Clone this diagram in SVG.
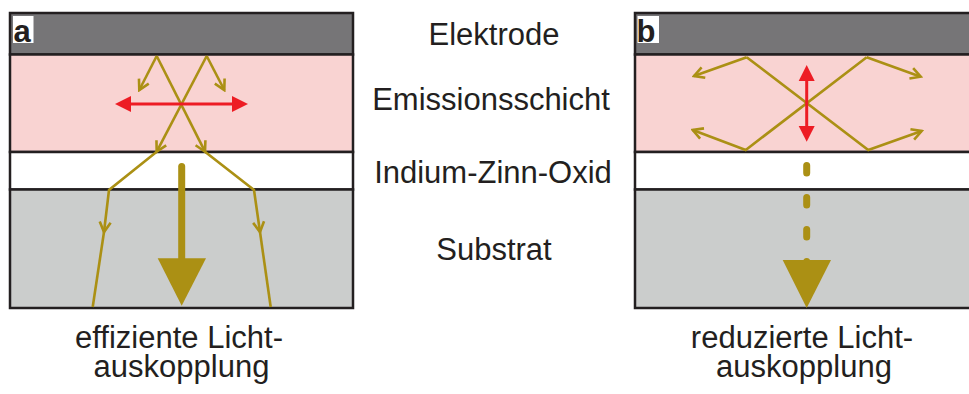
<svg xmlns="http://www.w3.org/2000/svg" width="969" height="394" viewBox="0 0 969 394">
  <defs>
    <style>
      .lbl { font-family: "Liberation Sans", Arial, sans-serif; font-size: 31px; fill: #231f20; text-anchor: middle; }
      .tag { font-family: "Liberation Sans", Arial, sans-serif; font-size: 31px; font-weight: bold; fill: #231f20; }
      .frame { stroke: #231f20; stroke-width: 2.5; }
      .electrode { fill: #767577; }
      .emission { fill: #f9d3d2; }
      .ito { fill: #ffffff; }
      .substrate { fill: #cbcdcc; }
      .ray { fill: none; stroke: #ab9014; stroke-width: 2.6; stroke-linejoin: miter; }
      .red { stroke: #ed1c24; stroke-width: 3; fill: none; }
      .redhead { fill: #ed1c24; }
      .gold { fill: #ab9014; }
    </style>
    <marker id="chev" viewBox="-12 -7 14 14" markerWidth="14" markerHeight="14" refX="0" refY="0" orient="auto" markerUnits="userSpaceOnUse">
      <path d="M-10,-5.5 L0,0 L-10,5.5" fill="none" stroke="#ab9014" stroke-width="2.6"/>
    </marker>
  </defs>

  <!-- Panel a: layer stack -->
  <g id="panel-a">
    <rect class="electrode frame" x="10" y="13" width="343" height="41.5"/>
    <rect class="emission frame" x="10" y="54.5" width="343" height="97.5"/>
    <rect class="ito frame" x="10" y="152" width="343" height="37.5"/>
    <rect class="substrate frame" x="10" y="189.5" width="343" height="118.5"/>
    <rect x="13" y="16" width="20.5" height="27" fill="#ffffff"/>
    <text class="tag" x="13.5" y="41.5">a</text>
  </g>

  <!-- Panel b: layer stack -->
  <g id="panel-b">
    <rect class="electrode frame" x="635" y="13" width="345" height="41.5"/>
    <rect class="emission frame" x="635" y="54.5" width="345" height="97.5"/>
    <rect class="ito frame" x="635" y="152" width="345" height="37.5"/>
    <rect class="substrate frame" x="635" y="189.5" width="345" height="118.5"/>
    <rect x="637.5" y="16" width="21.5" height="27" fill="#ffffff"/>
    <text class="tag" x="636.5" y="41.5">b</text>
  </g>

  <!-- Layer names -->
  <g id="layer-labels">
    <text class="lbl" x="494" y="44.5">Elektrode</text>
    <text class="lbl" x="491" y="110">Emissionsschicht</text>
    <text class="lbl" x="493" y="182.5">Indium-Zinn-Oxid</text>
    <text class="lbl" x="494" y="260">Substrat</text>
  </g>

  <!-- Captions -->
  <g id="captions">
    <text class="lbl" x="179" y="347.5">effiziente Licht-</text>
    <text class="lbl" x="181.5" y="377">auskopplung</text>
    <text class="lbl" x="802" y="347.5">reduzierte Licht-</text>
    <text class="lbl" x="804" y="377">auskopplung</text>
  </g>

  <g id="connectors">
    <!-- a: rays escaping through ITO and substrate -->
    <path class="ray" d="M156.7,56 L139.3,90" marker-end="url(#chev)"/>
    <path class="ray" d="M206.7,56 L224.3,90" marker-end="url(#chev)"/>
    <path class="ray" d="M156.7,56 L205,151.7" marker-end="url(#chev)"/>
    <path class="ray" d="M206.7,56 L156.7,151.7" marker-end="url(#chev)"/>
    <path class="ray" d="M205,151.7 L254,190 L260,232" marker-end="url(#chev)"/>
    <path class="ray" d="M156.7,151.7 L109,190 L104,232" marker-end="url(#chev)"/>
    <path class="ray" d="M260,232 L270.7,307"/>
    <path class="ray" d="M104,232 L92.7,307"/>

    <!-- a: horizontal dipole -->
    <line class="red" x1="130" y1="104" x2="233" y2="104"/>
    <polygon class="redhead" points="115,104 131,96 131,112"/>
    <polygon class="redhead" points="248,104 232,96 232,112"/>

    <!-- a: strong outcoupling -->
    <line x1="181.7" y1="166.5" x2="181.7" y2="262" stroke="#ab9014" stroke-width="7" stroke-linecap="round"/>
    <polygon class="gold" points="157.7,258.3 206,258.3 181.7,305.7"/>

    <!-- b: rays trapped in the emission layer -->
    <path class="ray" d="M746.7,57.3 L694,76" marker-end="url(#chev)"/>
    <path class="ray" d="M866.7,57.3 L920.7,76.7" marker-end="url(#chev)"/>
    <path class="ray" d="M746.7,57.3 L868.3,150 L921.7,131" marker-end="url(#chev)"/>
    <path class="ray" d="M866.7,57.3 L745.7,150 L692.7,130" marker-end="url(#chev)"/>

    <!-- b: vertical dipole -->
    <line class="red" x1="806.7" y1="80" x2="806.7" y2="127"/>
    <polygon class="redhead" points="806.7,65 798.7,81 814.7,81"/>
    <polygon class="redhead" points="806.7,141.7 798.7,126 814.7,126"/>

    <!-- b: weak outcoupling -->
    <line x1="806.7" y1="165.5" x2="806.7" y2="270" stroke="#ab9014" stroke-width="7" stroke-linecap="round" stroke-dasharray="7.5 24.5"/>
    <polygon class="gold" points="782.7,260 831,260 806.7,308"/>
  </g>
</svg>
